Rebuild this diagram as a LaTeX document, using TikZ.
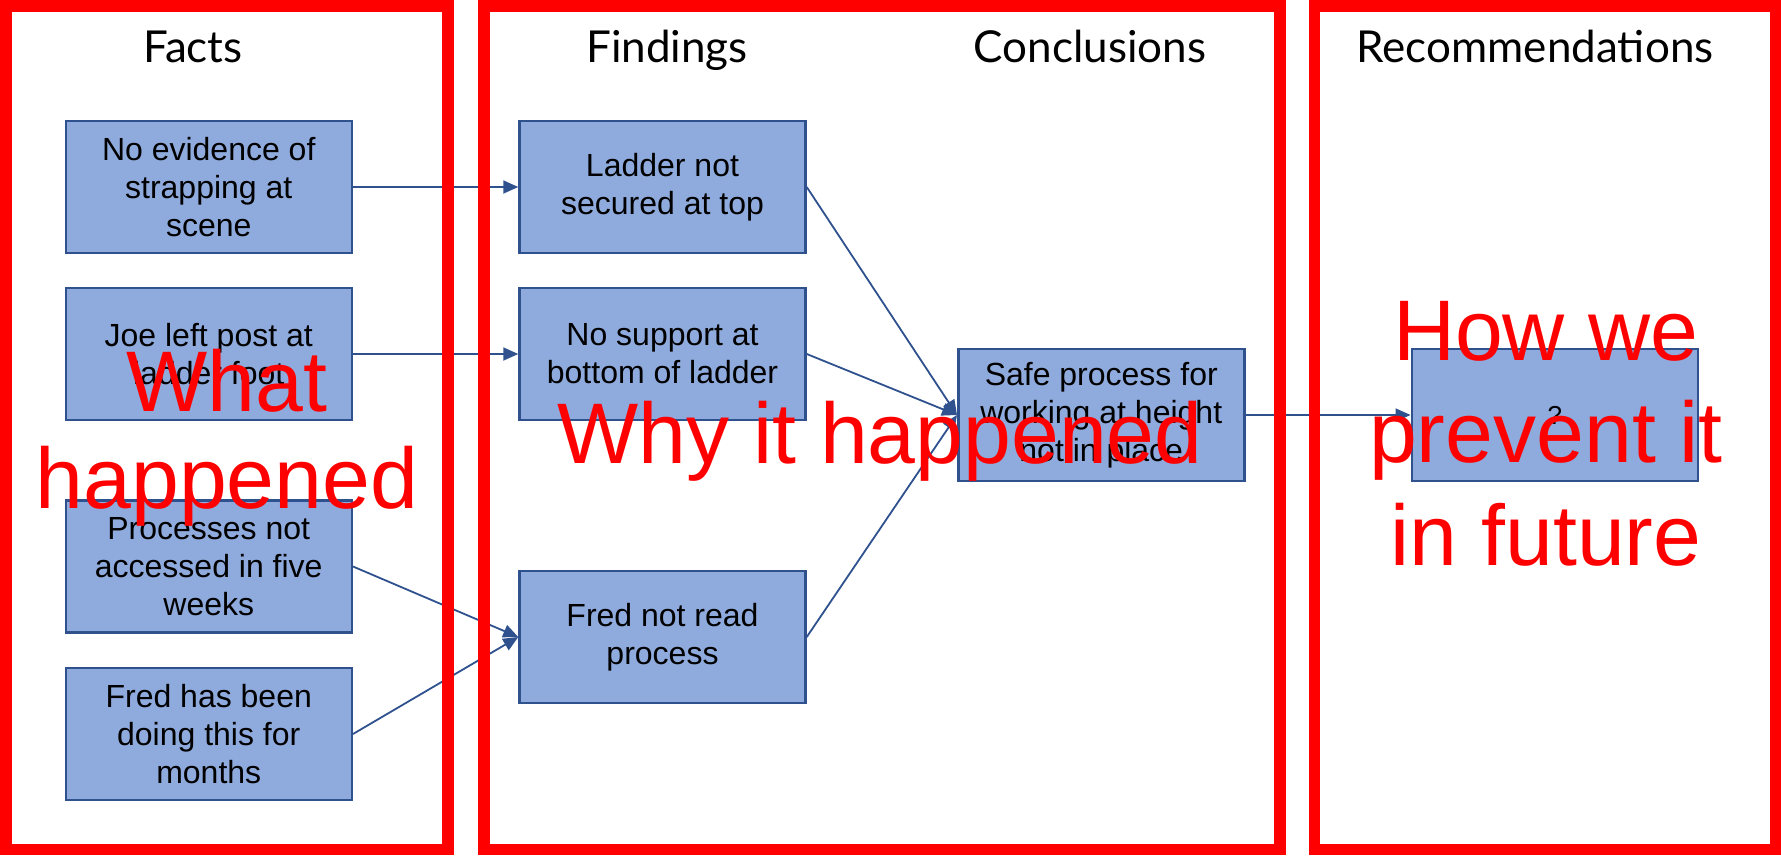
\documentclass[tikz,border=0pt]{standalone}
\usepackage{fontspec}
\setmainfont{Liberation Sans}
\newfontfamily\headfont{Lato}
\usetikzlibrary{arrows.meta}

\definecolor{boxfill}{HTML}{8FAADC}
\definecolor{boxline}{HTML}{2F528F}
\definecolor{linkblue}{HTML}{2F528F}
\definecolor{framered}{HTML}{FF0000}

\tikzset{
  itembox/.style={draw=boxline, fill=boxfill, line width=2.5pt,
    minimum width=286pt, minimum height=132pt, inner sep=0pt,
    align=center, font=\fontsize{32}{38}\selectfont},
  link/.style={draw=linkblue, line width=1.8pt,
    -{Triangle[length=15pt,width=13pt]}},
  frame/.style={draw=framered, line width=11.5pt},
  heading/.style={font=\headfont\fontsize{44}{48}\selectfont, anchor=base},
  overlay/.style={text=framered, align=center, anchor=base,
    font=\fontsize{86}{100}\selectfont}
}

\begin{document}
\begin{tikzpicture}[x=1pt, y=-1pt]
  \useasboundingbox[fill=white] (0,0) rectangle (1781,855);

  % column headings
  \node[heading] (hfacts) at (193,62) {Facts};
  \node[heading] (hfind)  at (667,62) {Findings};
  \node[heading] (hconc)  at (1090,62) {Conclusions};
  \node[heading] (hrec)   at (1535,62) {Recommendations};

  % facts
  \node[itembox] (f1) at (208.75,187) {No evidence of\\strapping at\\scene};
  \node[itembox] (f2) at (208.75,354) {Joe left post at\\ladder foot};
  \node[itembox] (f3) at (208.75,566.5) {Processes not\\accessed in five\\weeks};
  \node[itembox] (f4) at (208.75,734) {Fred has been\\doing this for\\months};

  % findings
  \node[itembox] (g1) at (662.5,187) {Ladder not\\secured at top};
  \node[itembox] (g2) at (662.5,354) {No support at\\bottom of ladder};
  \node[itembox] (g3) at (662.5,637) {Fred not read\\process};

  % conclusion and recommendation
  \node[itembox] (c) at (1101.25,415) {Safe process for\\working at height\\not in place};
  \node[itembox, font=\fontsize{26}{30}\selectfont] (r) at (1554.75,415) {?};

  % links
  \draw[link] (f1.east) -- (g1.west);
  \draw[link] (f2.east) -- (g2.west);
  \draw[link] (f3.east) -- (g3.west);
  \draw[link] (f4.east) -- (g3.west);
  \draw[link] (g1.east) -- (c.west);
  \draw[link] (g2.east) -- (c.west);
  \draw[link] (g3.east) -- (c.west);
  \draw[link] (c.east) -- (r.west);

  % red column frames
  \draw[frame] (5.75,5.75) rectangle (448,849.25);
  \draw[frame] (484,5.75) rectangle (1280,849.25);
  \draw[frame] (1314.7,5.75) rectangle (1775.25,849.25);

  % red captions (base anchor sits on the last line)
  \node[overlay, font=\fontsize{86}{97}\selectfont] (what) at (227,508) {What\\happened};
  \node[overlay] (why) at (880,463) {Why it happened};
  \node[overlay, font=\fontsize{86}{102.5}\selectfont] (how) at (1546,565) {How we\\prevent it\\in future};
\end{tikzpicture}
\end{document}
